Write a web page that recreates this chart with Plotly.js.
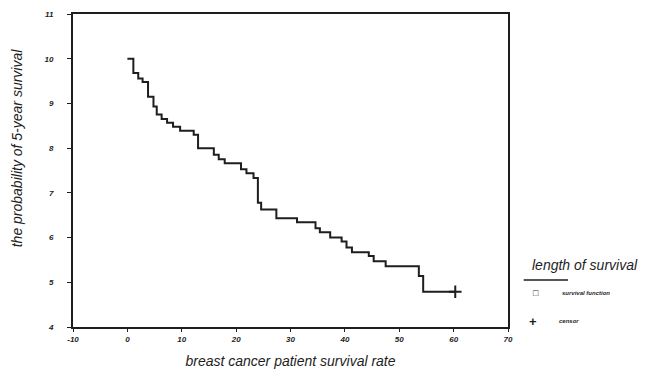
<!DOCTYPE html>
<html>
<head>
<meta charset="utf-8">
<script src="https://cdn.plot.ly/plotly-3.0.1.min.js"></script>
<style>html,body{margin:0;padding:0;background:#fff;}#chart{width:646px;height:376px;}</style>
</head>
<body>
<div id="chart"></div>
<script>
// Survival times (x) and survival function values (y)
const survTime = [0, 1.1, 2.0, 2.8, 3.8, 4.8, 5.4, 6.3, 7.3, 8.4, 9.7, 12.2, 13.0, 15.9, 16.8, 17.9, 20.9, 21.9, 23.2, 24.0, 24.6, 27.4, 31.2, 34.6, 35.4, 37.3, 39.4, 40.3, 41.3, 44.4, 45.3, 47.5, 53.6, 54.4, 60.3];
const survValue = [10.0, 9.68, 9.56, 9.48, 9.15, 8.93, 8.75, 8.65, 8.57, 8.48, 8.39, 8.30, 8.0, 7.85, 7.75, 7.66, 7.53, 7.44, 7.33, 6.78, 6.63, 6.43, 6.34, 6.21, 6.12, 6.0, 5.91, 5.78, 5.67, 5.59, 5.47, 5.36, 5.14, 4.79, 4.79];
const censorTime = [60.3];
const censorValue = [4.79];
const xTicks = [-10, 0, 10, 20, 30, 40, 50, 60, 70];
const yTicks = [4, 5, 6, 7, 8, 9, 10, 11];

const fontFam = '"Liberation Sans", Arial, sans-serif';
const ink = '#1e1e1e';

const traces = [
  {x: survTime, y: survValue, mode: 'lines', line: {shape: 'hv', color: ink, width: 2}, showlegend: false, hoverinfo: 'skip'},
  {x: censorTime, y: censorValue, mode: 'markers', marker: {symbol: 'cross-thin', size: 9, line: {color: ink, width: 2}}, showlegend: false, hoverinfo: 'skip'}
];

const layout = {
  width: 646, height: 376,
  margin: {l: 73, r: 138, t: 14, b: 49},
  paper_bgcolor: '#fff', plot_bgcolor: '#fff',
  font: {family: fontFam, color: ink},
  xaxis: {
    range: [-10, 70], tickvals: xTicks, ticktext: xTicks.map(String),
    showgrid: false, zeroline: false, showline: true, mirror: true, linecolor: ink, linewidth: 2,
    ticks: 'outside', ticklen: 3, tickcolor: ink,
    tickfont: {size: 8, family: fontFam, style: 'italic', weight: 'bold', color: ink},
    title: {text: 'breast cancer patient survival rate', font: {size: 14, style: 'italic', family: fontFam, color: ink}, standoff: 14}
  },
  yaxis: {
    range: [4, 11], tickvals: yTicks, ticktext: yTicks.map(String),
    showgrid: false, zeroline: false, showline: true, mirror: true, linecolor: ink, linewidth: 2,
    ticks: 'outside', ticklen: 4, tickcolor: ink, ticklabelstandoff: 12,
    tickfont: {size: 8, family: fontFam, style: 'italic', weight: 'bold', color: ink}
  },
  shapes: [
    {type: 'line', xref: 'paper', yref: 'paper', x0: 1.036, x1: 1.138, y0: 0.150, y1: 0.150, line: {color: ink, width: 1.5}}
  ],
  annotations: [
    {xref: 'paper', yref: 'paper', x: -0.128, y: 0.572, xanchor: 'center', yanchor: 'middle', textangle: -90, showarrow: false, text: 'the probability of 5-year survival', font: {size: 14, style: 'italic', family: fontFam, color: ink}},
    {xref: 'paper', yref: 'paper', x: 1.050, y: 0.198, xanchor: 'left', yanchor: 'middle', showarrow: false, text: 'length of survival', font: {size: 14, style: 'italic', family: fontFam, color: ink}},
    {xref: 'paper', yref: 'paper', x: 1.065, y: 0.108, xanchor: 'center', yanchor: 'middle', showarrow: false, text: '□', font: {size: 9, family: fontFam, color: ink}},
    {xref: 'paper', yref: 'paper', x: 1.120, y: 0.108, xanchor: 'left', yanchor: 'middle', showarrow: false, text: 'survival function', font: {size: 6, style: 'italic', weight: 'bold', family: fontFam, color: ink}},
    {xref: 'paper', yref: 'paper', x: 1.057, y: 0.018, xanchor: 'center', yanchor: 'middle', showarrow: false, text: '+', font: {size: 13, weight: 'bold', family: fontFam, color: ink}},
    {xref: 'paper', yref: 'paper', x: 1.112, y: 0.018, xanchor: 'left', yanchor: 'middle', showarrow: false, text: 'censor', font: {size: 6, style: 'italic', weight: 'bold', family: fontFam, color: ink}}
  ]
};

Plotly.newPlot('chart', traces, layout, {displayModeBar: false, staticPlot: true});
</script>
</body>
</html>
